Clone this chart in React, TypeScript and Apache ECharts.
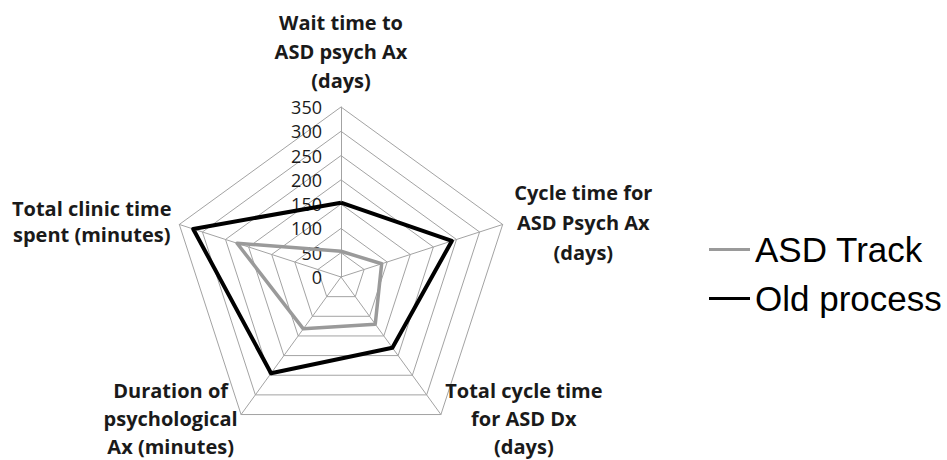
import React, { useEffect, useRef } from 'react';
import * as echarts from 'echarts';

// Categories in clockwise reading order, starting at the top
const categories = [
  'Wait time to\nASD psych Ax\n(days)',
  'Cycle time for\nASD Psych Ax\n(days)',
  'Total cycle time\nfor ASD Dx\n(days)',
  'Duration of\npsychological\nAx (minutes)',
  'Total clinic time\nspent (minutes)',
];
const asdTrack = [53, 88, 120, 132, 225];
const oldProcess = [153, 240, 180, 245, 320];
const axisMin = 0;
const axisMax = 350;
const tickCount = 7;
const seriesNames = ['ASD Track', 'Old process'];

// layout helpers (not data)
const ccwOrder = [0, 4, 3, 2, 1];
const labelBoxWidths = [140, 148, 160, 135, 160];
const labelGaps = [12, 7, 5, 5, 8];
const labelLineHeights = [29, 30, 28, 28, 26];

const nameFont = {
  fontFamily: 'Open Sans',
  fontWeight: 'bold' as const,
  fontSize: 20,
  lineHeight: 28,
  color: '#1a1a1a',
};

export default function App() {
  const ref = useRef<HTMLDivElement>(null);
  useEffect(() => {
    document.body.style.margin = '0';
    if (!ref.current) return;
    const chart = echarts.init(ref.current, undefined, { renderer: 'svg' });
    const rich: Record<string, any> = {};
    categories.forEach((_, i) => {
      rich['c' + i] = {
        ...nameFont,
        lineHeight: labelLineHeights[i],
        width: labelBoxWidths[i],
        align: 'center',
      };
    });
    const indicator = ccwOrder.map((i) => {
      const ind: any = { name: categories[i], min: axisMin, max: axisMax, nameGap: labelGaps[i] };
      if (i === 0) ind.axisLabel = { show: true };
      return ind;
    });
    const reorder = (arr: number[]) => ccwOrder.map((i) => arr[i]);
    chart.setOption({
      animation: false,
      backgroundColor: '#ffffff',
      legend: {
        data: seriesNames,
        orient: 'vertical',
        left: 704,
        top: 227,
        icon: 'rect',
        itemWidth: 41,
        itemHeight: 3,
        itemGap: 14,
        textStyle: { fontFamily: 'Liberation Sans', fontSize: 35, color: '#000' },
      },
      radar: {
        center: [341, 277],
        radius: 170,
        startAngle: 90,
        shape: 'polygon',
        splitNumber: tickCount,
        indicator,
        axisName: {
          formatter: (name: string) => {
            const idx = categories.indexOf(name);
            return name
              .split('\n')
              .map((l) => `{c${idx}|${l}}`)
              .join('\n');
          },
          rich,
          ...nameFont,
        },
        axisLine: { show: true, lineStyle: { color: '#a3a3a3', width: 1 } },
        splitLine: { show: true, lineStyle: { color: '#a3a3a3', width: 1 } },
        splitArea: { show: false },
        axisTick: { show: false },
        axisLabel: {
          show: false,
          fontFamily: 'Open Sans',
          fontSize: 18,
          color: '#1a1a1a',
          margin: 19,
        },
      },
      series: [
        {
          type: 'radar',
          symbol: 'none',
          data: [
            {
              name: seriesNames[0],
              value: reorder(asdTrack),
              lineStyle: { color: '#9a9a9a', width: 3.5 },
              itemStyle: { color: '#9a9a9a' },
            },
            {
              name: seriesNames[1],
              value: reorder(oldProcess),
              lineStyle: { color: '#000000', width: 4 },
              itemStyle: { color: '#000000' },
            },
          ],
        },
      ],
    });
    return () => chart.dispose();
  }, []);
  return <div ref={ref} style={{ width: 947, height: 460 }} />;
}
